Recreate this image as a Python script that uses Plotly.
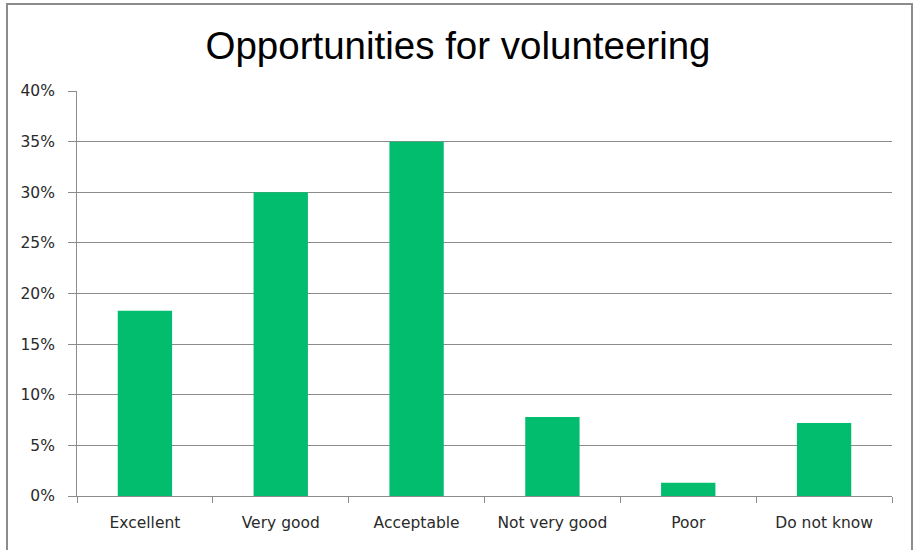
import plotly.graph_objects as go

# survey answers and share of respondents (%)
categories = ["Excellent", "Very good", "Acceptable", "Not very good", "Poor", "Do not know"]
shares = [18.3, 30.0, 35.0, 7.8, 1.3, 7.2]
tick_vals = [0, 5, 10, 15, 20, 25, 30, 35, 40]
tick_text = [f"{v}%" for v in tick_vals]

fig = go.Figure()
fig.add_trace(go.Bar(x=categories, y=shares, marker_color="#02BD6E",
                     marker_line_width=0, hoverinfo="x+y"))

fig.update_layout(
    width=916, height=550,
    margin=dict(l=77, r=24, t=91, b=54),
    paper_bgcolor="white", plot_bgcolor="white",
    bargap=0.6,
    showlegend=False,
    title=dict(text="Opportunities for volunteering", x=0.5, xanchor="center",
               y=0.918, yanchor="middle",
               font=dict(family="Liberation Sans, Arial", size=38.5, color="black")),
    font=dict(family="DejaVu Sans", size=15.5, color="#2a2a2a"),
)

fig.update_yaxes(range=[0, 40], tickvals=tick_vals, ticktext=tick_text,
                 showgrid=True, gridcolor="#8c8c8c", gridwidth=1,
                 showline=True, linecolor="#8c8c8c", linewidth=1,
                 ticks="outside", ticklen=8, tickcolor="#8c8c8c",
                 ticklabelstandoff=10,
                 zeroline=False, fixedrange=True)
fig.update_xaxes(showline=True, linecolor="#8c8c8c", linewidth=1,
                 ticks="outside", ticklen=6, tickcolor="#8c8c8c",
                 tickson="boundaries", ticklabelstandoff=12, fixedrange=True)

# outer frame around the whole chart
fig.add_shape(type="rect", xref="paper", yref="paper",
              x0=(7 - 77) / 815, x1=(912 - 77) / 815,
              y0=(496 - 560) / 405, y1=(496 - 4) / 405,
              line=dict(color="#8c8c8c", width=2), layer="below")

# drop the page's default body margin so the figure sits at the window corner
fig.write_html("out.html", config={"displayModeBar": False},
               post_script="document.body.style.margin='0';")
